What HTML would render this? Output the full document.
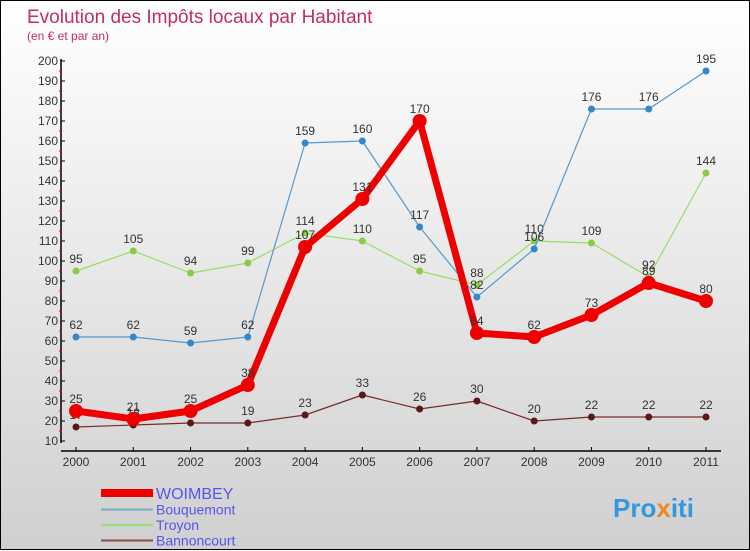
<!DOCTYPE html>
<html><head><meta charset="utf-8"><style>
body{margin:0}
#c{width:748px;height:548px;border:1px solid #000;background:linear-gradient(#fff,#d0d0d0);position:relative;font-family:"Liberation Sans",sans-serif}
svg{position:absolute;left:0;top:0}
</style></head><body>
<div id="c">
<svg id="s" width="750" height="550">
<text x="26" y="22" font-size="19" fill="#c0305a">Evolution des Impôts locaux par Habitant</text>
<text x="26" y="39" font-size="12" fill="#c0305a">(en € et par an)</text>
<text x="612" y="516" font-size="26" font-weight="bold" fill="#3399dd">Pro<tspan fill="#ee8822">x</tspan>iti</text>
</svg></div>
<script>
const years=[2000,2001,2002,2003,2004,2005,2006,2007,2008,2009,2010,2011];
const woimbey=[25,21,25,38,107,131,170,64,62,73,89,80];
const bouquemont=[62,62,59,62,159,160,117,82,106,176,176,195];
const troyon=[95,105,94,99,114,110,95,88,110,109,92,144];
const bannoncourt=[17,18,19,19,23,33,26,30,20,22,22,22];
const yTicks=[10,20,30,40,50,60,70,80,90,100,110,120,130,140,150,160,170,180,190,200];
const NS="http://www.w3.org/2000/svg",s=document.getElementById('s');
const X=i=>75+i*(630/11), Y=v=>440-(v-10)*2;
function mk(t,a,p){const e=document.createElementNS(NS,t);for(const k in a)e.setAttribute(k,a[k]);(p||s).appendChild(e);return e;}
const ax=mk('g',{});


mk('line',{x1:60,y1:58,x2:60,y2:442,stroke:'#000','stroke-width':1.5},ax);
mk('line',{x1:60,y1:450,x2:720,y2:450,stroke:'#000','stroke-width':1.5},ax);
yTicks.forEach(v=>{mk('line',{x1:60,y1:Y(v),x2:64,y2:Y(v),stroke:'#000'},ax);
 if(v<200)mk('line',{x1:58,y1:Y(v+5),x2:61,y2:Y(v+5),stroke:'#e00'},ax);
 const t=mk('text',{x:57,y:Y(v)+4,'font-size':12,fill:'#333','text-anchor':'end'},ax);t.textContent=v;
 
 });
years.forEach((yr,i)=>{mk('line',{x1:X(i),y1:446,x2:X(i),y2:450,stroke:'#000'},ax);
 const t=mk('text',{x:X(i),y:465,'font-size':12,fill:'#333','text-anchor':'middle'},ax);t.textContent=yr;
 
 });
const series=[[bannoncourt,'#7a2a2a','#5a1818',1.2,3.5,'bannoncourt'],[troyon,'#99dd66','#88cc44',1.2,3.5,'troyon'],[bouquemont,'#5599cc','#3388cc',1.2,3.5,'bouquemont'],[woimbey,'#ee0000','#ee0000',7,7,'woimbey']];
series.forEach(([d,c,pc,w,r,n])=>{const g=mk('g',{});
 
 
 mk('polyline',{points:d.map((v,i)=>X(i)+','+Y(v)).join(' '),fill:'none',stroke:c,'stroke-width':w,'stroke-linejoin':'round'},g);
 d.forEach((v,i)=>{const p=mk('circle',{cx:X(i),cy:Y(v),r:r,fill:pc},g);
  
  
  const t=mk('text',{x:X(i),y:Y(v)-8,'font-size':12,fill:'#333','text-anchor':'middle'},g);t.textContent=v;
  
  });});
const leg=[['WOIMBEY','#ee0000',8,16],['Bouquemont','#77aacc',2,14],['Troyon','#99dd77',2,14],['Bannoncourt','#8a5050',2,14]];
leg.forEach(([n,c,w,fs],i)=>{const y=492+i*15.5;const g=mk('g',{});
 
 
 mk('line',{x1:100,y1:y+(i?1:0),x2:152,y2:y+(i?1:0),stroke:c,'stroke-width':w},g);
 const t=mk('text',{x:155,y:y+6,'font-size':fs,fill:'#5555ee'},g);t.textContent=n;});
</script>
</body></html>
